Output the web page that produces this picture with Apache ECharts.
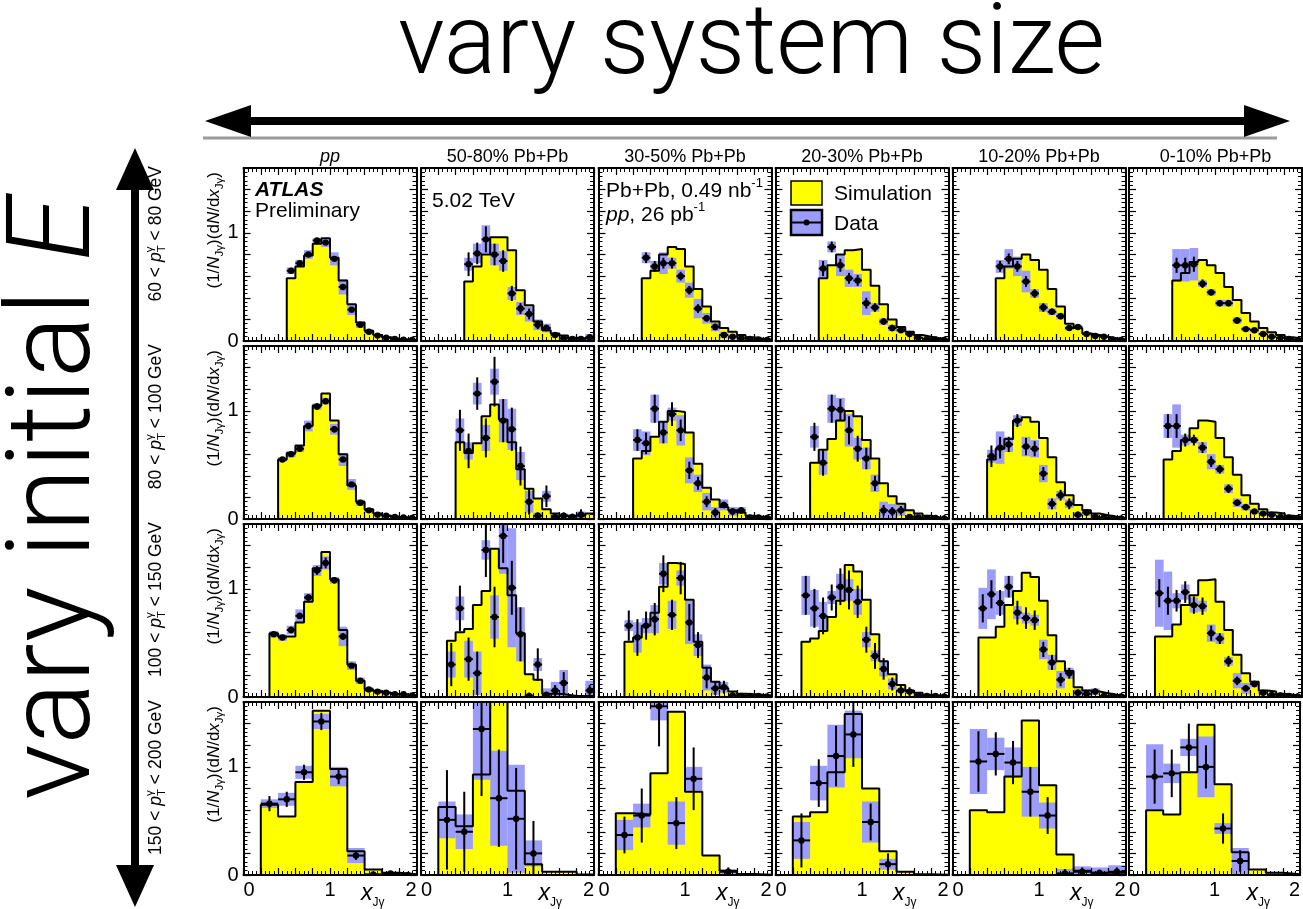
<!DOCTYPE html>
<html>
<head>
<meta charset="utf-8">
<title>x_Jγ distributions</title>
<script src="https://cdn.jsdelivr.net/npm/echarts@6/dist/echarts.min.js"></script>
<style>
  html, body { margin: 0; padding: 0; background: #fff; }
  #chart { width: 1303px; height: 909px; }
</style>
</head>
<body>
<div id="chart"></div>
<script>
// ---------------- data ----------------
const centralityLabels = ['pp', '50-80% Pb+Pb', '30-50% Pb+Pb', '20-30% Pb+Pb', '10-20% Pb+Pb', '0-10% Pb+Pb'];
const ptRanges = [[60, 80], [80, 100], [100, 150], [150, 200]];
const xTickLabels = ['0', '1', '2'];
const yTickLabels = ['0', '1'];
// lower edge of the first x_Jγ bin and the bin width for each pT range
const binLow = [0.5, 0.4, 0.3, 0.2];
const binWidth = [0.1, 0.1, 0.1, 0.2];

// 60 < pT < 80 GeV  (one array per centrality column)
const sim60 = [
  [0.58, 0.69, 0.79, 0.90, 0.95, 0.77, 0.56, 0.34, 0.17, 0.095, 0.055, 0.035, 0.02, 0.015, 0.01],
  [0.55, 0.69, 0.80, 0.96, 0.96, 0.84, 0.47, 0.33, 0.18, 0.10, 0.07, 0.05, 0.03, 0.025, 0.02],
  [0.58, 0.65, 0.80, 0.87, 0.85, 0.69, 0.48, 0.32, 0.18, 0.12, 0.086, 0.056, 0.034, 0.022, 0.015],
  [0.58, 0.70, 0.80, 0.84, 0.85, 0.66, 0.51, 0.34, 0.20, 0.13, 0.086, 0.056, 0.04, 0.025, 0.015],
  [0.58, 0.69, 0.76, 0.80, 0.75, 0.66, 0.48, 0.32, 0.16, 0.12, 0.07, 0.056, 0.04, 0.025, 0.015],
  [0.56, 0.63, 0.73, 0.75, 0.70, 0.63, 0.50, 0.38, 0.26, 0.18, 0.12, 0.08, 0.056, 0.034, 0.02]
];
const val60 = [
  [0.65, 0.72, 0.80, 0.93, 0.91, 0.76, 0.50, 0.29, 0.15, 0.085, 0.05, 0.03, 0.02, 0.012, 0.01],
  [0.71, 0.81, 0.94, 0.80, 0.74, 0.44, 0.30, 0.25, 0.15, 0.12, 0.056, 0.025, 0.02, 0.02, 0.034],
  [0.77, 0.69, 0.72, 0.72, 0.60, 0.47, 0.30, 0.21, 0.13, 0.056, 0.04, 0.025, 0.02, 0.015, 0.01],
  [0.67, 0.87, 0.70, 0.58, 0.56, 0.35, 0.31, 0.18, 0.12, 0.10, 0.065, 0.03, 0.02, 0.015, 0.01],
  [0.69, 0.76, 0.69, 0.55, 0.44, 0.31, 0.27, 0.23, 0.12, 0.13, 0.065, 0.046, 0.04, 0.015, 0.01],
  [0.70, 0.70, 0.71, 0.53, 0.45, 0.35, 0.35, 0.19, 0.11, 0.10, 0.065, 0.04, 0.03, 0.02, 0.01]
];
const stat60 = [
  [0.02, 0.02, 0.02, 0.02, 0.02, 0.02, 0.02, 0.015, 0.01, 0.01, 0.01, 0.01, 0.005, 0.005, 0.005],
  [0.11, 0.10, 0.12, 0.10, 0.10, 0.07, 0.05, 0.05, 0.04, 0.03, 0.02, 0.02, 0.02, 0.02, 0.02],
  [0.05, 0.05, 0.05, 0.05, 0.04, 0.04, 0.04, 0.03, 0.03, 0.02, 0.02, 0.015, 0.01, 0.01, 0.01],
  [0.07, 0.05, 0.06, 0.05, 0.05, 0.05, 0.04, 0.03, 0.03, 0.02, 0.02, 0.015, 0.01, 0.01, 0.01],
  [0.05, 0.05, 0.05, 0.05, 0.04, 0.04, 0.03, 0.03, 0.02, 0.02, 0.02, 0.015, 0.01, 0.01, 0.01],
  [0.07, 0.07, 0.07, 0.04, 0.03, 0.03, 0.03, 0.03, 0.02, 0.02, 0.02, 0.015, 0.01, 0.01, 0.01]
];
const sys60 = [
  [0.03, 0.03, 0.04, 0.02, 0.04, 0.06, 0.07, 0.05, 0.03, 0.02, 0.015, 0.01, 0.01, 0.005, 0.005],
  [0.06, 0.09, 0.13, 0.10, 0.09, 0.06, 0.06, 0.07, 0.05, 0.04, 0.02, 0.015, 0.01, 0.01, 0.03],
  [0.05, 0.05, 0.10, 0.05, 0.06, 0.07, 0.09, 0.05, 0.04, 0.03, 0.02, 0.015, 0.01, 0.01, 0.01],
  [0.08, 0.05, 0.10, 0.08, 0.06, 0.11, 0.04, 0.03, 0.03, 0.02, 0.02, 0.01, 0.01, 0.01, 0.01],
  [0.06, 0.09, 0.09, 0.10, 0.04, 0.04, 0.03, 0.03, 0.02, 0.02, 0.015, 0.01, 0.01, 0.01, 0.01],
  [0.15, 0.15, 0.15, 0.03, 0.03, 0.03, 0.03, 0.03, 0.02, 0.02, 0.015, 0.01, 0.01, 0.01, 0.01]
];

// 80 < pT < 100 GeV
const sim80 = [
  [0.55, 0.61, 0.68, 0.86, 1.05, 1.16, 0.91, 0.60, 0.31, 0.16, 0.09, 0.05, 0.03, 0.02, 0.015, 0.01],
  [0.71, 0.61, 0.70, 0.95, 1.06, 0.92, 0.71, 0.46, 0.28, 0.19, 0.09, 0.05, 0.03, 0.03, 0.03, 0.05],
  [0.56, 0.63, 0.76, 0.90, 1.00, 0.99, 0.80, 0.51, 0.29, 0.18, 0.11, 0.08, 0.06, 0.03, 0.02, 0.015],
  [0.52, 0.64, 0.74, 0.91, 1.00, 0.95, 0.73, 0.56, 0.33, 0.21, 0.14, 0.08, 0.05, 0.03, 0.015, 0.01],
  [0.55, 0.65, 0.74, 0.91, 0.94, 0.90, 0.75, 0.57, 0.34, 0.22, 0.13, 0.08, 0.05, 0.035, 0.02, 0.01],
  [0.55, 0.63, 0.73, 0.84, 0.91, 0.90, 0.75, 0.57, 0.41, 0.22, 0.14, 0.09, 0.06, 0.05, 0.03, 0.02]
];
const val80 = [
  [0.55, 0.60, 0.65, 0.86, 1.04, 1.09, 0.83, 0.55, 0.32, 0.15, 0.08, 0.04, 0.03, 0.02, 0.015, 0.01],
  [0.82, 0.63, 1.16, 0.75, 1.27, 0.91, 0.83, 0.49, 0.16, 0.03, 0.21, 0.02, 0.03, 0.02, 0.04, null],
  [0.73, 0.70, 1.02, 0.80, 0.97, 0.82, 0.45, 0.33, 0.16, 0.06, 0.13, 0.07, 0.08, 0.015, 0.015, 0.01],
  [0.76, 0.52, 1.02, 1.01, 0.82, 0.65, 0.56, 0.33, 0.08, 0.07, 0.08, 0.02, 0.015, 0.01, 0.01, 0.005],
  [0.58, 0.66, 0.69, 0.91, 0.67, 0.65, 0.42, 0.14, 0.22, 0.14, 0.04, 0.06, 0.02, 0.015, 0.01, 0.005],
  [0.86, 0.86, 0.73, 0.73, 0.66, 0.53, 0.46, 0.28, 0.15, 0.11, 0.07, 0.05, 0.04, 0.02, 0.015, 0.01]
];
const stat80 = [
  [0.02, 0.02, 0.02, 0.03, 0.03, 0.03, 0.03, 0.02, 0.02, 0.015, 0.01, 0.01, 0.01, 0.005, 0.005, 0.005],
  [0.19, 0.16, 0.15, 0.18, 0.23, 0.20, 0.20, 0.18, 0.12, 0.03, 0.10, 0.03, 0.03, 0.03, 0.05, 0],
  [0.10, 0.10, 0.13, 0.10, 0.11, 0.10, 0.08, 0.06, 0.05, 0.04, 0.03, 0.03, 0.03, 0.02, 0.01, 0.01],
  [0.13, 0.12, 0.13, 0.10, 0.13, 0.12, 0.10, 0.07, 0.05, 0.04, 0.04, 0.02, 0.02, 0.01, 0.01, 0.01],
  [0.10, 0.10, 0.07, 0.06, 0.08, 0.07, 0.06, 0.05, 0.05, 0.05, 0.03, 0.03, 0.02, 0.01, 0.01, 0.01],
  [0.11, 0.11, 0.06, 0.05, 0.05, 0.05, 0.04, 0.04, 0.03, 0.03, 0.02, 0.02, 0.02, 0.01, 0.01, 0.01]
];
const sys80 = [
  [0.02, 0.03, 0.03, 0.05, 0.03, 0.03, 0.05, 0.06, 0.05, 0.03, 0.02, 0.01, 0.01, 0.01, 0.005, 0.005],
  [0.11, 0.08, 0.10, 0.12, 0.12, 0.20, 0.19, 0.13, 0.10, 0.03, 0.05, 0.02, 0.02, 0.02, 0.03, 0],
  [0.10, 0.11, 0.13, 0.10, 0.06, 0.14, 0.12, 0.08, 0.08, 0.05, 0.05, 0.04, 0.03, 0.02, 0.01, 0.01],
  [0.10, 0.11, 0.13, 0.11, 0.15, 0.10, 0.10, 0.08, 0.08, 0.07, 0.05, 0.02, 0.02, 0.01, 0.01, 0.01],
  [0.06, 0.15, 0.07, 0.05, 0.09, 0.08, 0.08, 0.05, 0.04, 0.04, 0.02, 0.03, 0.02, 0.01, 0.01, 0.01],
  [0.11, 0.20, 0.05, 0.03, 0.05, 0.07, 0.04, 0.04, 0.04, 0.03, 0.02, 0.02, 0.02, 0.01, 0.01, 0.01]
];

// 100 < pT < 150 GeV
const sim100 = [
  [0.59, 0.56, 0.56, 0.69, 0.88, 1.19, 1.34, 1.09, 0.62, 0.30, 0.15, 0.07, 0.05, 0.04, 0.025, 0.02, 0.015],
  [0.52, 0.60, 0.63, 0.85, 0.98, 1.37, 1.19, 0.94, 0.59, 0.21, 0.16, 0.03, 0.03, 0.02, 0.01, 0.01, 0.01],
  [0.51, 0.55, 0.66, 0.78, 1.02, 1.24, 1.23, 0.90, 0.51, 0.27, 0.14, 0.08, 0.05, 0.03, 0.025, 0.02, 0.015],
  [0.51, 0.54, 0.61, 0.74, 0.89, 1.22, 1.16, 0.90, 0.58, 0.33, 0.21, 0.11, 0.06, 0.04, 0.02, 0.015, 0.01],
  [0.55, 0.55, 0.65, 0.85, 0.98, 1.15, 1.11, 0.89, 0.57, 0.33, 0.24, 0.09, 0.06, 0.05, 0.035, 0.02, 0.01],
  [0.56, 0.56, 0.67, 0.85, 0.94, 1.08, 1.09, 0.88, 0.62, 0.39, 0.22, 0.14, 0.06, 0.05, 0.03, 0.02, 0.01]
];
const val100 = [
  [0.58, 0.55, 0.62, 0.75, 0.92, 1.17, 1.24, 1.08, 0.56, 0.29, 0.15, 0.07, 0.05, 0.04, 0.025, 0.025, 0.015],
  [0.30, 0.82, 0.35, 0.22, 1.36, 0.74, 1.49, 1.01, 0.58, 0.01, 0.30, 0.02, 0.06, 0.13, null, null, 0.06],
  [0.66, 0.55, 0.66, 0.72, 1.14, 0.76, 1.10, 0.69, 0.48, 0.18, 0.08, 0.09, 0.015, 0.01, 0.01, 0.01, 0.005],
  [0.94, 0.82, 0.75, 0.92, 1.02, 0.99, 0.88, 0.53, 0.38, 0.26, 0.12, 0.06, 0.05, 0.015, 0.01, 0.01, 0.005],
  [0.82, 0.95, 0.87, 1.02, 0.78, 0.73, 0.71, 0.44, 0.32, 0.16, 0.22, 0.04, 0.03, 0.05, 0.01, 0.01, 0.005],
  [0.96, 0.89, 0.89, 0.97, 0.85, 0.84, 0.59, 0.54, 0.33, 0.15, 0.08, 0.12, 0.04, 0.02, 0.015, 0.01, 0.005]
];
const stat100 = [
  [0.02, 0.02, 0.03, 0.03, 0.03, 0.04, 0.05, 0.03, 0.03, 0.02, 0.02, 0.01, 0.01, 0.01, 0.01, 0.01, 0.005],
  [0.20, 0.21, 0.20, 0.20, 0.25, 0.28, 0.25, 0.25, 0.25, 0.03, 0.15, 0.03, 0.05, 0.10, 0, 0, 0.05],
  [0.14, 0.17, 0.13, 0.15, 0.17, 0.14, 0.15, 0.17, 0.12, 0.10, 0.06, 0.06, 0.03, 0.02, 0.02, 0.01, 0.01],
  [0.18, 0.18, 0.17, 0.12, 0.17, 0.18, 0.15, 0.12, 0.12, 0.10, 0.06, 0.05, 0.04, 0.02, 0.02, 0.01, 0.01],
  [0.13, 0.13, 0.12, 0.10, 0.11, 0.10, 0.09, 0.07, 0.07, 0.06, 0.05, 0.03, 0.03, 0.03, 0.02, 0.01, 0.01],
  [0.13, 0.13, 0.10, 0.10, 0.08, 0.08, 0.07, 0.05, 0.05, 0.04, 0.03, 0.03, 0.02, 0.02, 0.01, 0.01, 0.01]
];
const sys100 = [
  [0.03, 0.03, 0.04, 0.06, 0.04, 0.05, 0.06, 0.03, 0.09, 0.04, 0.03, 0.02, 0.02, 0.01, 0.01, 0.01, 0.005],
  [0.12, 0.11, 0.17, 0.20, 0.09, 0.20, 0.35, 0.55, 0.25, 0.02, 0.06, 0.06, 0.08, 0.12, 0, 0, 0.09],
  [0.05, 0.14, 0.07, 0.13, 0.10, 0.13, 0.07, 0.20, 0.10, 0.12, 0.06, 0.05, 0.02, 0.01, 0.01, 0.01, 0.01],
  [0.18, 0.17, 0.13, 0.06, 0.12, 0.10, 0.12, 0.07, 0.05, 0.07, 0.05, 0.02, 0.02, 0.01, 0.01, 0.01, 0.01],
  [0.19, 0.23, 0.11, 0.10, 0.06, 0.05, 0.05, 0.09, 0.07, 0.08, 0.05, 0.03, 0.04, 0.03, 0.01, 0.01, 0.01],
  [0.31, 0.27, 0.07, 0.07, 0.07, 0.05, 0.08, 0.05, 0.04, 0.07, 0.05, 0.03, 0.02, 0.01, 0.01, 0.01, 0.01]
];

// 150 < pT < 200 GeV
const sim150 = [
  [0.65, 0.54, 0.86, 1.52, 0.98, 0.22, 0.05, 0.02, 0.006],
  [0.63, 0.45, 0.93, 1.75, 0.78, 0.10, 0.03, 0.03, 0.005],
  [0.57, 0.56, 0.94, 1.51, 0.77, 0.18, 0.04, 0.01, 0.003],
  [0.54, 0.58, 0.95, 1.49, 0.80, 0.22, 0.03, 0.006, 0.003],
  [0.60, 0.58, 0.91, 1.43, 0.83, 0.19, 0.04, 0.02, 0.02],
  [0.60, 0.56, 0.95, 1.39, 0.84, 0.21, 0.05, 0.02, 0.006]
];
const val150 = [
  [0.66, 0.70, 0.95, 1.42, 0.91, 0.18, 0.006, 0.015, 0.0],
  [0.51, 0.40, 1.35, 0.71, 0.52, 0.20, null, null, null],
  [0.37, 0.55, 1.56, 0.48, 0.89, null, 0.03, null, null],
  [0.32, 0.85, 1.10, 1.30, 0.49, 0.10, null, null, null],
  [1.05, 1.12, 1.04, 0.77, 0.55, 0.015, 0.03, 0.02, 0.03],
  [0.91, 0.94, 1.18, 1.00, 0.43, 0.13, null, null, null]
];
const stat150 = [
  [0.07, 0.07, 0.07, 0.08, 0.07, 0.04, 0.01, 0.01, 0.005],
  [0.46, 0.37, 0.62, 0.45, 0.47, 0.30, 0, 0, 0],
  [0.17, 0.25, 0.37, 0.24, 0.29, 0, 0.04, 0, 0],
  [0.25, 0.22, 0.28, 0.30, 0.17, 0.10, 0, 0, 0],
  [0.28, 0.20, 0.20, 0.23, 0.17, 0.04, 0.04, 0.03, 0.04],
  [0.25, 0.22, 0.22, 0.20, 0.14, 0.10, 0, 0, 0]
];
const sys150 = [
  [0.04, 0.06, 0.06, 0.07, 0.09, 0.07, 0.005, 0.01, 0],
  [0.17, 0.16, 0.47, 0.44, 0.50, 0.12, 0, 0, 0],
  [0.14, 0.11, 0.13, 0.20, 0.11, 0, 0.02, 0, 0],
  [0.17, 0.16, 0.29, 0.22, 0.19, 0.05, 0, 0, 0],
  [0.30, 0.15, 0.14, 0.23, 0.12, 0.04, 0.05, 0.05, 0.06],
  [0.30, 0.09, 0.08, 0.28, 0.05, 0.12, 0, 0, 0]
];

const SIM = [sim60, sim80, sim100, sim150];
const VAL = [val60, val80, val100, val150];
const STAT = [stat60, stat80, stat100, stat150];
const SYS = [sys60, sys80, sys100, sys150];

// ---------------- layout & style ----------------
const COL_LEFT = [243.5, 421, 598.5, 775.5, 952.5, 1129];
const ROW_TOP = [168, 346, 524, 702];
const PW = 173, PH = 173;
const FONT = "'Liberation Sans', Arial, Helvetica, sans-serif";
const LIGHT = "Roboto, Lato, 'Open Sans', sans-serif";
const YELLOW = '#ffff00';
const BOXBLUE = '#9c9cfa';

const measureCtx = document.createElement('canvas').getContext('2d');
function fontCss(p) {
  return (p.italic ? 'italic ' : '') + (p.bold ? 'bold ' : (p.weight ? p.weight + ' ' : '')) + p.size + 'px ' + (p.family || FONT);
}
function measure(p) { measureCtx.font = fontCss(p); return measureCtx.measureText(p.t).width; }

// lay styled pieces along a common baseline (local y = 0)
function textRun(parts) {
  let x = 0, lastW = 0, lastX = 0;
  const kids = [];
  parts.forEach(p => {
    const w = measure(p);
    const px = p.stack ? lastX : x;
    kids.push({
      type: 'text', x: px, y: (p.dy || 0) - 0.345 * p.size, silent: true,
      style: {
        text: p.t, fontSize: p.size, fontFamily: p.family || FONT,
        fontStyle: p.italic ? 'italic' : 'normal',
        fontWeight: p.bold ? 'bold' : (p.weight || 'normal'),
        fill: '#000', align: 'left', verticalAlign: 'middle'
      }
    });
    if (p.stack) { x = lastX + Math.max(w, lastW); }
    else { lastX = x; lastW = w; x += w; }
  });
  return { kids, width: x };
}
function placeRun(parts, x, y, anchor, rotation) {
  const r = textRun(parts);
  const shift = anchor === 'end' ? -r.width : anchor === 'middle' ? -r.width / 2 : 0;
  r.kids.forEach(k => { k.x += shift; });
  return { type: 'group', x, y, rotation: rotation || 0, children: r.kids, silent: true, z: 100 };
}

// ---------------- build panels ----------------
const grids = [], xAxes = [], yAxes = [], series = [];
const frameLine = { show: true, onZero: false, lineStyle: { color: '#000', width: 2 } };

function xFmt(v) { return Math.abs(v - Math.round(v)) < 1e-6 ? xTickLabels[Math.round(v)] : ''; }
function yFmt(v) {
  if (Math.abs(v) < 1e-6) return yTickLabels[0];
  if (Math.abs(v - 1) < 1e-6) return yTickLabels[1];
  return '';
}

for (let r = 0; r < 4; r++) {
  for (let c = 0; c < 6; c++) {
    const g = grids.length;
    grids.push({ left: COL_LEFT[c], top: ROW_TOP[r], width: PW, height: PH, containLabel: false });
    const xCommon = {
      gridIndex: g, type: 'value', min: 0, max: 2, interval: 0.2, z: 10,
      axisLine: frameLine, splitLine: { show: false },
      axisTick: { show: true, inside: true, length: 7, lineStyle: { color: '#000', width: 1.2 } },
      minorTick: { show: true, splitNumber: 4, length: 4, lineStyle: { color: '#000', width: 1 } }
    };
    const yCommon = {
      gridIndex: g, type: 'value', min: 0, max: 1.6, interval: 0.2, z: 10,
      axisLine: frameLine, splitLine: { show: false },
      axisTick: { show: true, inside: true, length: 7, lineStyle: { color: '#000', width: 1.2 } },
      minorTick: { show: true, splitNumber: 5, length: 4, lineStyle: { color: '#000', width: 1 } }
    };
    xAxes.push(Object.assign({}, xCommon, {
      position: 'bottom',
      axisLabel: {
        show: r === 3, formatter: xFmt, color: '#000', fontFamily: FONT, fontSize: 20,
        margin: 5, alignMinLabel: 'left', alignMaxLabel: 'right'
      }
    }));
    xAxes.push(Object.assign({}, xCommon, { position: 'top', axisLabel: { show: false } }));
    yAxes.push(Object.assign({}, yCommon, {
      position: 'left',
      axisLabel: { show: c === 0, formatter: yFmt, color: '#000', fontFamily: FONT, fontSize: 20, margin: 5 }
    }));
    yAxes.push(Object.assign({}, yCommon, { position: 'right', axisLabel: { show: false } }));

    const xi = 2 * g, yi = 2 * g;
    const sim = SIM[r][c], val = VAL[r][c], st = STAT[r][c], sy = SYS[r][c];
    const n = sim.length;
    const edge = i => +(binLow[r] + i * binWidth[r]).toFixed(4);

    // histogram outline points (step drawn at the end of every bin)
    const steps = [[edge(0), 0]];
    sim.forEach((v, i) => steps.push([edge(i), v]));
    steps.push([edge(n), sim[n - 1]]);
    steps.push([edge(n), 0]);

    series.push({
      type: 'line', xAxisIndex: xi, yAxisIndex: yi, data: steps, step: 'end',
      symbol: 'none', silent: true, z: 1,
      lineStyle: { width: 0 }, areaStyle: { color: YELLOW, opacity: 1 }
    });

    const boxes = [], points = [];
    val.forEach((v, i) => {
      if (v === null) return;
      const lo = edge(i), hi = edge(i + 1);
      if (sy[i] > 0) boxes.push([lo, hi, v, sy[i]]);
      points.push([(lo + hi) / 2, lo, hi, v, st[i]]);
    });

    series.push({
      type: 'custom', xAxisIndex: xi, yAxisIndex: yi, data: boxes, clip: true, silent: true, z: 2,
      renderItem: (params, api) => {
        const p1 = api.coord([api.value(0), api.value(2) + api.value(3)]);
        const p2 = api.coord([api.value(1), api.value(2) - api.value(3)]);
        return {
          type: 'rect',
          shape: { x: p1[0], y: p1[1], width: p2[0] - p1[0], height: p2[1] - p1[1] },
          style: { fill: BOXBLUE }
        };
      }
    });

    series.push({
      type: 'line', xAxisIndex: xi, yAxisIndex: yi, data: steps, step: 'end',
      symbol: 'none', silent: true, z: 3,
      lineStyle: { color: '#000', width: 2 }
    });

    series.push({
      type: 'custom', xAxisIndex: xi, yAxisIndex: yi, data: points, clip: true, silent: true, z: 4,
      renderItem: (params, api) => {
        const xc = api.value(0), lo = api.value(1), hi = api.value(2), y = api.value(3), e = api.value(4);
        const top = api.coord([xc, y + e]), bot = api.coord([xc, y - e]);
        const l = api.coord([lo, y]), rr = api.coord([hi, y]), m = api.coord([xc, y]);
        return {
          type: 'group', children: [
            { type: 'line', shape: { x1: top[0], y1: top[1], x2: bot[0], y2: bot[1] }, style: { stroke: '#000', lineWidth: 2 } },
            { type: 'line', shape: { x1: l[0], y1: l[1], x2: rr[0], y2: rr[1] }, style: { stroke: '#000', lineWidth: 2 } },
            { type: 'circle', shape: { cx: m[0], cy: m[1], r: 3.2 }, style: { fill: '#000' } }
          ]
        };
      }
    });
  }
}

// ---------------- annotations ----------------
const graphic = [];

// headline and side title, fitted to their span
const headParts = [{ t: 'vary system size', size: 100, weight: 300, family: LIGHT }];
const headSize = 100 * 707 / measure(headParts[0]);
headParts[0].size = headSize;
graphic.push(placeRun(headParts, 398, 82, 'start', 0));

const sideProbe = [{ t: 'vary initial ', size: 100, weight: 300, family: LIGHT }, { t: 'E', size: 100, weight: 300, italic: true, family: LIGHT }];
const sideW = sideProbe.reduce((s, p) => s + measure(p), 0);
const sideSize = 100 * 603 / sideW;
sideProbe.forEach(p => { p.size = sideSize; });
graphic.push(placeRun(sideProbe, 100, 800, 'start', Math.PI / 2));

// arrows
graphic.push({ type: 'rect', shape: { x: 203, y: 136.5, width: 1074, height: 3 }, style: { fill: '#9a9a9a' }, z: 100, silent: true });
graphic.push({ type: 'rect', shape: { x: 240, y: 117, width: 1015, height: 8 }, style: { fill: '#000' }, z: 100, silent: true });
graphic.push({ type: 'polygon', shape: { points: [[205, 121], [251, 105], [251, 137]] }, style: { fill: '#000' }, z: 100, silent: true });
graphic.push({ type: 'polygon', shape: { points: [[1290, 121], [1244, 105], [1244, 137]] }, style: { fill: '#000' }, z: 100, silent: true });
graphic.push({ type: 'rect', shape: { x: 131, y: 180, width: 8, height: 695 }, style: { fill: '#000' }, z: 100, silent: true });
graphic.push({ type: 'polygon', shape: { points: [[135, 148], [116, 190], [154, 190]] }, style: { fill: '#000' }, z: 100, silent: true });
graphic.push({ type: 'polygon', shape: { points: [[135, 907], [116, 865], [154, 865]] }, style: { fill: '#000' }, z: 100, silent: true });

// column headings
centralityLabels.forEach((lab, c) => {
  graphic.push(placeRun([{ t: lab, size: 18, italic: c === 0 }], COL_LEFT[c] + PW / 2, 163.5, 'middle', 0));
});

// pT ranges and y titles for each row
ptRanges.forEach((pt, r) => {
  graphic.push(placeRun([
    { t: pt[0] + ' < ', size: 17.5 },
    { t: 'p', size: 17.5, italic: true },
    { t: 'T', size: 11.5, dy: 4 },
    { t: 'γ', size: 11.5, dy: -8, stack: true },
    { t: ' < ' + pt[1] + ' GeV', size: 17.5 }
  ], 162, ROW_TOP[r] - 2, 'end', Math.PI / 2));
  graphic.push(placeRun([
    { t: '(1/', size: 17 },
    { t: 'N', size: 17, italic: true },
    { t: 'Jγ', size: 11.5, dy: 4 },
    { t: ')(d', size: 17 },
    { t: 'N', size: 17, italic: true },
    { t: '/d', size: 17 },
    { t: 'x', size: 17, italic: true },
    { t: 'Jγ', size: 11.5, dy: 4 },
    { t: ')', size: 17 }
  ], 220, ROW_TOP[r] + 4, 'end', Math.PI / 2));
});

// x titles under the bottom row
COL_LEFT.forEach(left => {
  graphic.push(placeRun([
    { t: 'x', size: 23, italic: true },
    { t: 'Jγ', size: 12, dy: 5 }
  ], left + PW - 32, 902, 'end', 0));
});

// in-panel texts
graphic.push(placeRun([{ t: 'ATLAS', size: 21, bold: true, italic: true }], 255, 197, 'start', 0));
graphic.push(placeRun([{ t: 'Preliminary', size: 21 }], 255, 218.5, 'start', 0));
graphic.push(placeRun([{ t: '5.02 TeV', size: 21 }], 432, 208, 'start', 0));
graphic.push(placeRun([{ t: 'Pb+Pb, 0.49 nb', size: 21 }, { t: '-1', size: 13, dy: -10 }], 606, 198, 'start', 0));
graphic.push(placeRun([{ t: 'pp', size: 21, italic: true }, { t: ', 26 pb', size: 21 }, { t: '-1', size: 13, dy: -10 }], 606, 222, 'start', 0));

// legend
graphic.push({ type: 'rect', shape: { x: 791, y: 181, width: 31, height: 24 }, style: { fill: YELLOW, stroke: '#000', lineWidth: 1.5 }, z: 100, silent: true });
graphic.push({ type: 'rect', shape: { x: 791, y: 210, width: 31, height: 25 }, style: { fill: BOXBLUE, stroke: '#000', lineWidth: 2.5 }, z: 100, silent: true });
graphic.push({ type: 'line', shape: { x1: 791, y1: 222.5, x2: 822, y2: 222.5 }, style: { stroke: '#000', lineWidth: 2 }, z: 101, silent: true });
graphic.push({ type: 'circle', shape: { cx: 806.5, cy: 222.5, r: 3 }, style: { fill: '#000' }, z: 101, silent: true });
graphic.push(placeRun([{ t: 'Simulation', size: 21 }], 834, 201, 'start', 0));
graphic.push(placeRun([{ t: 'Data', size: 21 }], 834, 231, 'start', 0));

const chart = echarts.init(document.getElementById('chart'), null, { renderer: 'canvas' });
chart.setOption({
  animation: false,
  backgroundColor: '#ffffff',
  grid: grids,
  xAxis: xAxes,
  yAxis: yAxes,
  series: series,
  graphic: graphic
});
</script>
</body>
</html>
